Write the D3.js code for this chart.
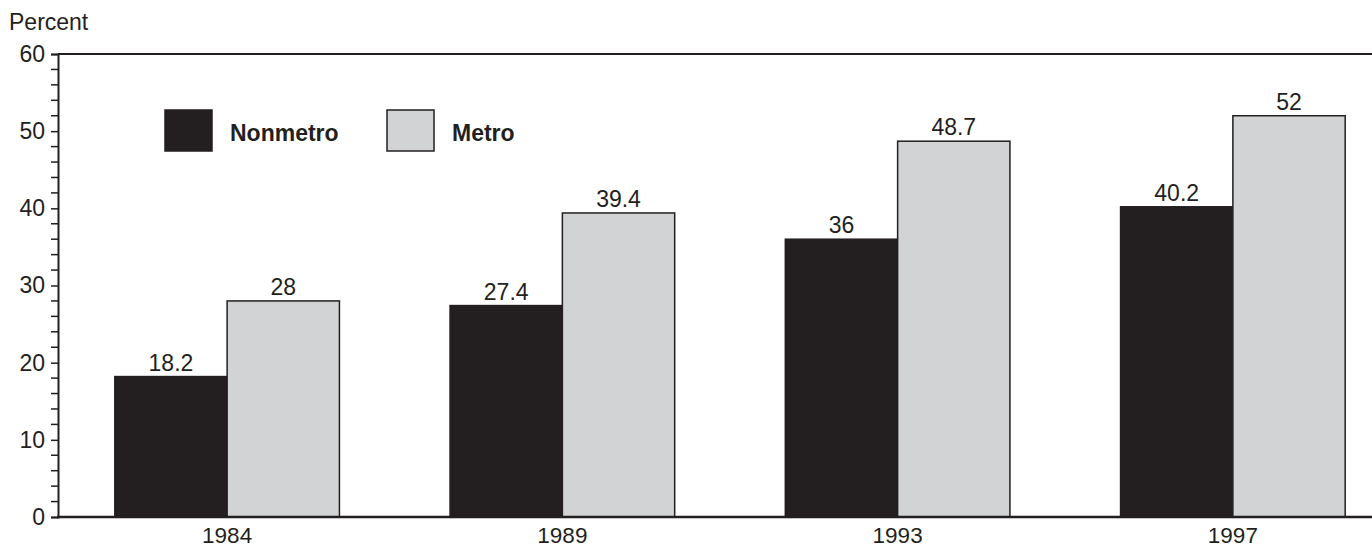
<!DOCTYPE html>
<html lang="en">
<head>
<meta charset="utf-8">
<title>Nonmetro vs Metro</title>
<script src="https://cdnjs.cloudflare.com/ajax/libs/d3/7.8.5/d3.min.js"></script>
<style>
  body { margin: 0; background: #fff; }
  text { font-family: "Liberation Sans", Arial, sans-serif; fill: #231f20; }
</style>
</head>
<body>
<script>
// data
var years = ["1984", "1989", "1993", "1997"];
var seriesNames = ["Nonmetro", "Metro"];
var nonmetro = [18.2, 27.4, 36, 40.2];
var metro = [28, 39.4, 48.7, 52];
var yTicks = [0, 10, 20, 30, 40, 50, 60];

var w = 1372, h = 548;
var colors = { Nonmetro: "#231f20", Metro: "#d1d3d4" };

var svg = d3.select("body").append("svg")
  .attr("width", w)
  .attr("height", h);

var y = d3.scaleLinear().domain([0, 60]).range([517, 54]);
var x = d3.scaleBand().domain(years).range([59.5, 1400.5])
  .paddingInner(0.33).paddingOuter(0.165);
var xs = d3.scaleBand().domain(seriesNames).range([0, x.bandwidth()]);

var rows = years.map(function(yr, i) {
  return { year: yr, values: [
    { key: "Nonmetro", v: nonmetro[i] },
    { key: "Metro", v: metro[i] }
  ]};
});

// top frame line
svg.append("line")
  .attr("x1", 58).attr("x2", w)
  .attr("y1", y(60)).attr("y2", y(60))
  .attr("stroke", "#231f20").attr("stroke-width", 2);

// bars
var g = svg.selectAll("g.grp")
  .data(rows)
  .enter().append("g")
  .attr("class", "grp")
  .attr("transform", function(d) { return "translate(" + x(d.year) + ",0)"; });

g.selectAll("rect")
  .data(function(d) { return d.values; })
  .enter().append("rect")
  .attr("x", function(d) { return xs(d.key); })
  .attr("width", xs.bandwidth())
  .attr("y", function(d) { return y(d.v); })
  .attr("height", function(d) { return y(0) - y(d.v); })
  .attr("fill", function(d) { return colors[d.key]; })
  .attr("stroke", "#231f20")
  .attr("stroke-width", 1.5);

g.selectAll("text.val")
  .data(function(d) { return d.values; })
  .enter().append("text")
  .attr("class", "val")
  .attr("x", function(d) { return xs(d.key) + xs.bandwidth() / 2; })
  .attr("y", function(d) { return y(d.v) - 6; })
  .attr("text-anchor", "middle")
  .attr("font-size", 23)
  .text(function(d) { return d.v; });

// y axis
var minor = d3.range(0, 61, 2);
var yAxis = d3.axisLeft(y).tickValues(yTicks).tickSize(7).tickPadding(6);
var ya = svg.append("g").attr("transform", "translate(58,0)").call(yAxis);
ya.select(".domain").attr("stroke", "#231f20").attr("stroke-width", 2);
ya.selectAll(".tick line").attr("stroke", "#231f20").attr("stroke-width", 1.5);
ya.selectAll(".tick text").attr("font-size", 23).attr("font-family", "Liberation Sans, Arial, sans-serif").attr("fill", "#231f20");

svg.append("g").selectAll("line")
  .data(minor.filter(function(v) { return yTicks.indexOf(v) < 0; }))
  .enter().append("line")
  .attr("x1", 51).attr("x2", 58)
  .attr("y1", function(d) { return y(d); })
  .attr("y2", function(d) { return y(d); })
  .attr("stroke", "#231f20").attr("stroke-width", 1.5);

// x axis
svg.append("line")
  .attr("x1", 57).attr("x2", w)
  .attr("y1", y(0)).attr("y2", y(0))
  .attr("stroke", "#231f20").attr("stroke-width", 2.5);

svg.selectAll("text.yr")
  .data(years)
  .enter().append("text")
  .attr("class", "yr")
  .attr("x", function(d) { return x(d) + x.bandwidth() / 2; })
  .attr("y", 543)
  .attr("text-anchor", "middle")
  .attr("font-size", 22.5)
  .text(function(d) { return d; });

// axis title
svg.append("text")
  .attr("x", 9).attr("y", 30)
  .attr("font-size", 23)
  .text("Percent");

// legend
var legX = [165, 387];
var leg = svg.selectAll("g.leg")
  .data(seriesNames)
  .enter().append("g")
  .attr("class", "leg")
  .attr("transform", function(d, i) { return "translate(" + legX[i] + ",110)"; });

leg.append("rect")
  .attr("width", 47).attr("height", 41)
  .attr("fill", function(d) { return colors[d]; })
  .attr("stroke", "#231f20").attr("stroke-width", 1.5);

leg.append("text")
  .attr("x", 65).attr("y", 31)
  .attr("font-size", 23)
  .attr("font-weight", "bold")
  .text(function(d) { return d; });
</script>
</body>
</html>
